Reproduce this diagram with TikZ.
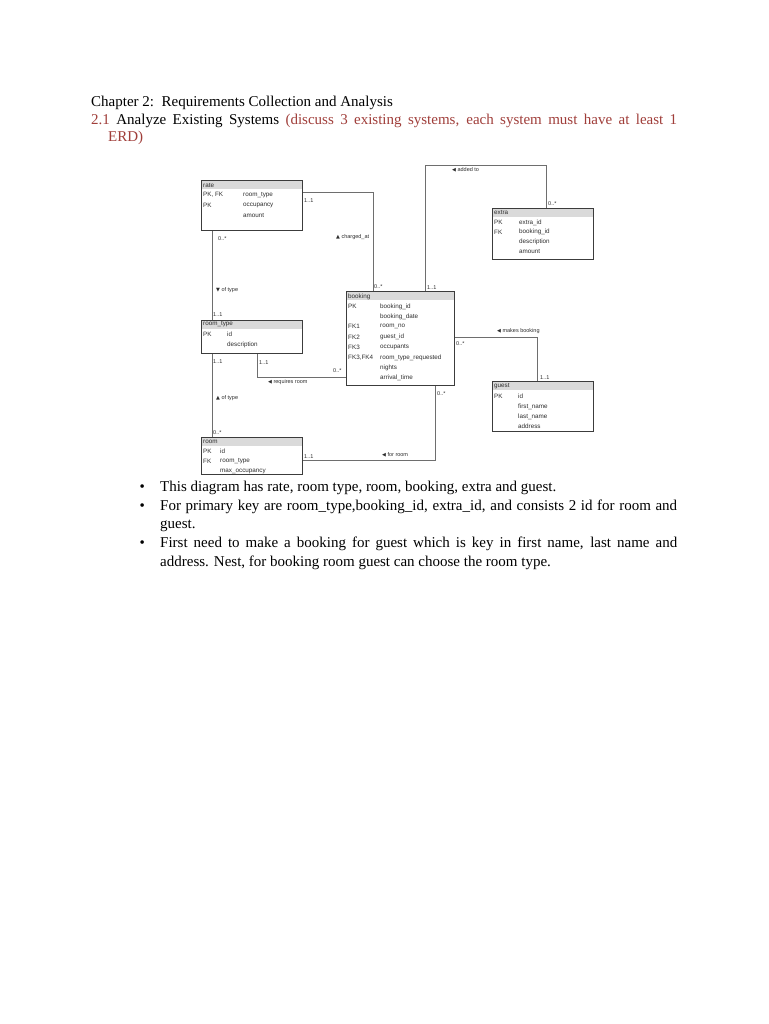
\documentclass[tikz,border=0pt]{standalone}
\usepackage{fontspec}
\setmainfont{Liberation Serif}
\newfontfamily\dsans{Liberation Sans}
\newfontfamily\dvs{DejaVu Sans}
\definecolor{redtxt}{RGB}{160,62,58}
\definecolor{hdrc}{RGB}{218,218,218}
\definecolor{bdr}{RGB}{60,60,60}
\definecolor{lnc}{RGB}{110,110,110}
\definecolor{etxt}{RGB}{45,45,45}
\begin{document}
\begin{tikzpicture}[x=1pt,y=-1pt,
  ent/.style={draw=bdr,line width=0.8pt,anchor=north west,inner sep=0pt,minimum width=101pt},
  hdr/.style={fill=hdrc,draw=none,anchor=north west,inner sep=0pt,minimum width=101pt,minimum height=9pt},
  et/.style={font=\dsans\fontsize{6.3}{7}\selectfont,anchor=west,inner sep=0pt,text=etxt},
  lbl/.style={font=\dsans\fontsize{5.5}{6}\selectfont,anchor=west,inner sep=0pt,text=etxt},
  conn/.style={draw=lnc,line width=0.8pt},
  body/.style={font=\fontsize{15}{18}\selectfont,anchor=base west,inner sep=0pt}]
\useasboundingbox[fill=white] (0,0) rectangle (768,1024);

% ---- heading text ----
\node[body] (h1) at (91,106.7) {Chapter 2:\ \ Requirements Collection and Analysis};
\node[body] (h2) at (91,124.3) {\makebox[586pt][s]{\textcolor{redtxt}{2.1} Analyze Existing Systems \textcolor{redtxt}{(discuss 3 existing systems, each system must have at least 1}}};
\node[body,text=redtxt] (h3) at (108,141.7) {ERD)};

% ---- entities: headers ----
\node[hdr] (rateh) at (201,180) {};
\node[hdr] (extrah) at (492,208) {};
\node[hdr,minimum width=108pt] (bookingh) at (346,291) {};
\node[hdr] (rth) at (201,320) {};
\node[hdr] (roomh) at (201,437) {};
\node[hdr] (guesth) at (492,381) {};

% ---- entities: boxes ----
\node[ent,minimum height=50pt] (rate) at (201,180) {};
\node[ent,minimum height=51pt] (extra) at (492,208) {};
\node[ent,minimum width=108pt,minimum height=94pt] (booking) at (346,291) {};
\node[ent,minimum height=33pt] (rt) at (201,320) {};
\node[ent,minimum height=37pt] (room) at (201,437) {};
\node[ent,minimum height=50pt] (guest) at (492,381) {};

% rate
\node[et] (rate0) at (203,185) {rate};
\node[et] (rate1k) at (203,195) {PK, FK};
\node[et] (rate1) at (243,195) {room\_type};
\node[et] (rate2k) at (203,205.5) {PK};
\node[et] (rate2) at (243,205.5) {occupancy};
\node[et] (rate3) at (243,215.5) {amount};
% extra
\node[et] (ex0) at (494,212.7) {extra};
\node[et] (ex1k) at (494,222.5) {PK};
\node[et] (ex1) at (519,222.5) {extra\_id};
\node[et] (ex2k) at (494,232) {FK};
\node[et] (ex2) at (519,232) {booking\_id};
\node[et] (ex3) at (519,241.5) {description};
\node[et] (ex4) at (519,251) {amount};
% booking
\node[et] (bk0) at (348,296.5) {booking};
\node[et] (bk1k) at (348,306.5) {PK};
\node[et] (bk1) at (380,306.5) {booking\_id};
\node[et] (bk2) at (380,316.5) {booking\_date};
\node[et] (bk3k) at (348,326.8) {FK1};
\node[et] (bk3) at (380,326.8) {room\_no};
\node[et] (bk4k) at (348,337) {FK2};
\node[et] (bk4) at (380,337) {guest\_id};
\node[et] (bk5k) at (348,347.3) {FK3};
\node[et] (bk5) at (380,347.3) {occupants};
\node[et] (bk6k) at (348,357.6) {FK3,FK4};
\node[et] (bk6) at (380,357.6) {room\_type\_requested};
\node[et] (bk7) at (380,367.9) {nights};
\node[et] (bk8) at (380,378.2) {arrival\_time};
% room_type
\node[et] (rt0) at (203,324.5) {room\_type};
\node[et] (rt1k) at (203,334.5) {PK};
\node[et] (rt1) at (227,334.5) {id};
\node[et] (rt2) at (227,344.5) {description};
% room
\node[et] (rm0) at (203,442) {room};
\node[et] (rm1k) at (203,451.7) {PK};
\node[et] (rm1) at (220,451.7) {id};
\node[et] (rm2k) at (203,461.5) {FK};
\node[et] (rm2) at (220,461.5) {room\_type};
\node[et] (rm3) at (220,471.5) {max\_occupancy};
% guest
\node[et] (gu0) at (494,386.3) {guest};
\node[et] (gu1k) at (494,396.5) {PK};
\node[et] (gu1) at (518,396.5) {id};
\node[et] (gu2) at (518,406.5) {first\_name};
\node[et] (gu3) at (518,416.5) {last\_name};
\node[et] (gu4) at (518,426.5) {address};

% ---- connectors ----
\draw[conn] ([yshift=-12pt]rate.north east) -| ([xshift=27pt]booking.north west);
\draw[conn] ([xshift=11pt]rate.south west) -- ([xshift=11pt]rt.north west);
\draw[conn] ([xshift=11pt]rt.south west) -- ([xshift=11pt]room.north west);
\draw[conn] ([xshift=56pt]rt.south west) |- ([yshift=-86pt]booking.north west);
\coordinate (addtop) at (425,165);
\draw[conn] ([xshift=79pt]booking.north west) -- (addtop) -| ([xshift=54.5pt]extra.north west);
\draw[conn] ([yshift=-46pt]booking.north east) -| ([xshift=45pt]guest.north west);
\draw[conn] ([yshift=-23pt]room.north east) -| ([xshift=89pt]booking.south west);

% ---- connector labels ----
\node[lbl] (l1) at (304,200.5) {1..1};
\node[lbl] (l2) at (336,237) {{\dvs\fontsize{5}{6}\selectfont▲} charged\_at};
\node[lbl] (l3) at (374,287) {0..*};
\node[lbl] (l4) at (218,239) {0..*};
\node[lbl] (l5) at (216,290) {{\dvs\fontsize{5}{6}\selectfont▼} of type};
\node[lbl] (l6) at (213,315) {1..1};
\node[lbl] (l7) at (213,362) {1..1};
\node[lbl] (l8) at (259,362.5) {1..1};
\node[lbl] (l9) at (333,371) {0..*};
\node[lbl] (l10) at (268,382.5) {{\dvs\fontsize{5}{6}\selectfont◀} requires room};
\node[lbl] (l11) at (216,398.5) {{\dvs\fontsize{5}{6}\selectfont▲} of type};
\node[lbl] (l12) at (213,433) {0..*};
\node[lbl] (l13) at (304,457) {1..1};
\node[lbl] (l14) at (382,455) {{\dvs\fontsize{5}{6}\selectfont◀} for room};
\node[lbl] (l15) at (437,394) {0..*};
\node[lbl] (l16) at (452,169.5) {{\dvs\fontsize{5}{6}\selectfont◀} added to};
\node[lbl] (l17) at (548,204) {0..*};
\node[lbl] (l18) at (427,288) {1..1};
\node[lbl] (l19) at (497,331.5) {{\dvs\fontsize{5}{6}\selectfont◀} makes booking};
\node[lbl] (l20) at (456,343.5) {0..*};
\node[lbl] (l21) at (540,378) {1..1};

% ---- bullet list ----
\node[body] (b1) at (139.5,491.5) {•};
\node[body] (t1) at (160,491.5) {This diagram has rate, room type, room, booking, extra and guest.};
\node[body] (b2) at (139.5,510) {•};
\node[body] (t2) at (160,510) {\makebox[517pt][s]{For primary key are room\_type,booking\_id, extra\_id, and consists 2 id for room and}};
\node[body] (t3) at (160,528.5) {guest.};
\node[body] (b3) at (139.5,547.5) {•};
\node[body] (t4) at (160,547.5) {\makebox[517pt][s]{First need to make a booking for guest which is key in first name, last name and}};
\node[body] (t5) at (160,566) {address. Nest, for booking room guest can choose the room type.};
\end{tikzpicture}
\end{document}
